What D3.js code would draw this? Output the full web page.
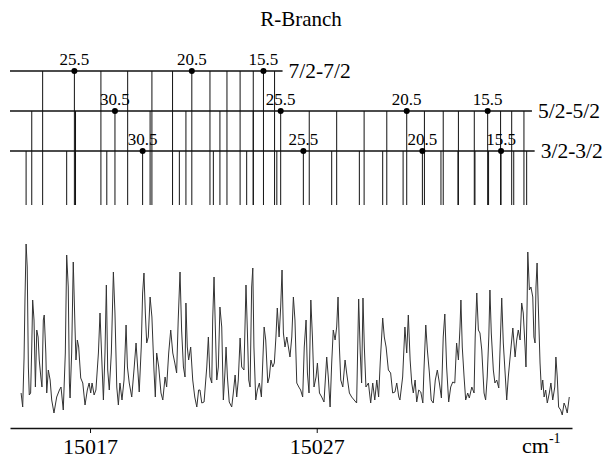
<!DOCTYPE html>
<html>
<head>
<meta charset="utf-8">
<script src="https://cdn.jsdelivr.net/npm/d3@7"></script>
<style>
  body { margin: 0; background: #fff; }
  svg { display: block; }
</style>
</head>
<body>
<div id="chart"></div>
<script>
// all wavenumbers below are given as cm-1 above this base
const base = 15000;
const tickValues = [15017, 15027];

// stick diagram: one row per sub-band
const seriesNames = ["7/2-7/2", "5/2-5/2", "3/2-3/2"];

// 7/2-7/2, J = 26.5 ... 14.5
const sticks72 = [14.91, 16.31, 17.48, 18.66, 19.73, 20.64, 21.49, 22.29, 23.04, 23.62, 24.20, 24.65, 25.14];
const markJ72 = ["25.5", "20.5", "15.5"];
const markNu72 = [16.31, 21.49, 24.65];

// 5/2-5/2, J = 32.5 ... 12.5
const sticks52 = [14.43, 16.36, 18.10, 19.65, 21.23, 22.73, 24.20, 25.41, 26.67, 27.88, 29.09, 30.09, 30.97,
  31.75, 32.58, 33.25, 33.95, 34.54, 35.11, 35.60, 36.14];
const markJ52 = ["30.5", "25.5", "20.5", "15.5"];
const markNu52 = [18.10, 25.41, 30.97, 34.54];

// 3/2-3/2, J = 33.5 ... 13.5
const sticks32 = [14.18, 15.97, 17.74, 19.32, 20.94, 22.44, 23.91, 25.24, 26.41, 27.66, 28.88, 29.91, 30.81,
  31.66, 32.48, 33.23, 33.98, 34.58, 35.13, 35.69, 36.26];
const markJ32 = ["30.5", "25.5", "20.5", "15.5"];
const markNu32 = [19.32, 26.41, 31.66, 35.13];

// recorded spectrum (wavenumber above base, intensity in arbitrary units)
const specNu = [
  13.96,14.03,14.09,14.13,14.18,14.23,14.28,14.32,14.38,14.43,
  14.47,14.53,14.59,14.65,14.71,14.76,14.83,14.88,14.94,14.98,
  15.05,15.09,15.16,15.24,15.31,15.41,15.53,15.65,15.72,15.82,
  15.91,15.97,16.04,16.09,16.12,16.19,16.26,16.34,16.38,16.44,
  16.50,16.59,16.68,16.78,16.88,16.96,17.03,17.09,17.18,17.26,
  17.37,17.44,17.52,17.59,17.66,17.72,17.78,17.85,17.94,18.03,
  18.10,18.18,18.25,18.32,18.41,18.50,18.59,18.65,18.73,18.84,
  18.95,19.03,19.10,19.17,19.26,19.32,19.38,19.44,19.50,19.57,
  19.65,19.73,19.82,19.88,19.94,20.03,20.13,20.21,20.31,20.38,
  20.47,20.56,20.65,20.74,20.82,20.89,20.97,21.04,21.12,21.19,
  21.23,21.29,21.35,21.44,21.53,21.62,21.71,21.79,
  21.85,21.93,22.03,22.15,22.22,22.29,22.37,22.41,22.47,22.53,
  22.59,22.66,22.73,22.81,22.88,22.95,23.00,23.06,23.14,23.25,
  23.32,23.40,23.47,23.54,23.62,23.69,23.79,23.88,23.94,24.00,
  24.06,24.13,24.18,24.23,24.31,24.38,24.47,24.56,24.68,24.75,
  24.84,24.91,24.98,25.06,25.13,25.20,25.26,25.34,25.41,25.47,
  25.53,25.60,25.68,25.75,25.82,25.90,25.97,26.04,26.12,26.21,
  26.29,26.38,26.45,26.53,26.59,26.66,26.74,26.81,26.88,26.97,
  27.03,27.12,27.22,27.32,27.44,27.51,27.59,27.66,27.73,27.81,
  27.88,27.94,28.00,28.06,28.15,28.25,28.32,28.44,28.54,28.65,
  28.76,28.85,28.92,28.98,29.04,29.10,29.17,29.28,29.38,29.47,
  29.56,29.65,29.73,29.80,29.91,29.98,30.06,30.16,30.26,30.35,
  30.45,30.53,30.62,
  30.67,30.79,30.89,30.97,31.04,31.12,31.19,31.26,31.34,31.41,
  31.50,31.59,31.68,31.73,31.81,31.88,31.97,32.05,32.14,32.23,
  32.32,32.41,32.50,32.58,32.65,32.73,32.82,32.91,33.00,33.09,
  33.17,33.25,33.32,33.36,33.42,33.50,33.57,33.66,33.73,33.84,
  33.94,33.99,34.06,34.13,34.20,34.28,34.38,34.45,34.52,34.59,
  34.64,34.70,34.79,34.86,34.94,35.03,35.09,35.16,35.23,35.31,
  35.38,35.45,35.53,35.65,35.75,35.82,35.89,35.97,36.04,36.11,
  36.19,36.23,36.28,36.31,36.38,36.45,36.53,36.58,36.63,36.67,
  36.72,36.77,36.85,36.91,36.97,37.03,37.10,37.17,37.26,37.33,
  37.41,37.50,37.55,37.61,37.67,37.76,37.83,37.91,37.98,38.05,
  38.14
];
const specI = [
  27,13,62,120,176,153,53,25,27,73,
  120,100,33,90,83,60,43,33,100,105,
  67,27,50,40,20,7,23,30,33,10,
  67,165,133,37,22,67,158,90,60,80,
  73,42,37,15,30,37,27,37,25,30,
  67,107,60,20,67,135,50,30,67,148,
  107,33,15,37,20,40,95,53,37,23,
  53,77,53,28,73,127,147,107,77,83,
  123,103,50,23,67,53,27,20,43,33,
  67,90,67,57,47,100,148,90,53,43,
  117,73,60,73,40,23,13,30,
  30,17,18,53,83,43,37,100,143,90,
  40,53,113,93,20,47,73,43,18,13,
  27,45,23,40,82,53,50,135,90,40,
  33,133,152,73,20,30,37,23,93,80,
  37,43,60,53,57,83,112,83,113,150,
  87,73,83,73,63,83,123,100,37,33,
  30,23,73,100,47,27,120,83,33,43,
  57,27,23,18,63,43,13,57,90,80,
  93,123,73,40,33,60,47,27,23,20,
  17,121,67,37,122,73,33,37,17,37,
  20,40,23,57,102,83,73,50,47,27,
  28,37,23,
  20,43,93,67,105,60,37,27,40,18,
  30,28,17,50,95,70,47,20,17,40,
  50,37,22,83,106,53,18,33,38,37,
  77,60,93,120,73,43,20,27,22,33,
  27,83,127,90,87,70,27,20,43,83,
  130,87,50,37,40,32,73,122,77,47,
  20,43,63,92,63,80,90,80,117,107,
  73,53,117,168,130,133,123,83,77,133,
  157,117,57,30,40,23,30,17,27,37,
  20,33,63,43,13,10,5,17,13,7,23
];

const width = 607, height = 462;
const serif = "'Liberation Serif', 'Times New Roman', serif";

const svg = d3.select("#chart").append("svg")
  .attr("width", width)
  .attr("height", height)
  .style("font-family", serif);

// scales
const x = d3.scaleLinear()
  .domain([base + 13.47, base + 38.26])
  .range([10, 572]);

const yRow = d3.scalePoint()
  .domain(seriesNames)
  .range([71, 151]);
const stickBottom = 205;

const y = d3.scaleLinear()
  .domain([0, 180])
  .range([420, 240]);

// title
svg.append("text")
  .attr("x", 301)
  .attr("y", 26)
  .attr("text-anchor", "middle")
  .attr("font-size", 21)
  .text("R-Branch");

// --- stick diagram ---
const rows = [
  { name: seriesNames[0], sticks: sticks72, marks: markNu72.map((v, i) => ({ nu: v, j: markJ72[i] })) },
  { name: seriesNames[1], sticks: sticks52, marks: markNu52.map((v, i) => ({ nu: v, j: markJ52[i] })) },
  { name: seriesNames[2], sticks: sticks32, marks: markNu32.map((v, i) => ({ nu: v, j: markJ32[i] })) }
];

rows.forEach(row => {
  const g = svg.append("g").attr("class", "row");
  const ry = yRow(row.name);
  const lineEnd = x(base + d3.max(row.sticks)) + 8;

  g.selectAll(".stick")
    .data(row.sticks)
    .join("line")
    .attr("class", "stick")
    .attr("x1", d => x(base + d))
    .attr("x2", d => x(base + d))
    .attr("y1", ry)
    .attr("y2", stickBottom)
    .attr("stroke", "#111")
    .attr("stroke-width", 1);

  g.append("line")
    .attr("x1", x.range()[0])
    .attr("x2", lineEnd)
    .attr("y1", ry)
    .attr("y2", ry)
    .attr("stroke", "#111")
    .attr("stroke-width", 1.3);

  g.selectAll(".dot")
    .data(row.marks)
    .join("circle")
    .attr("class", "dot")
    .attr("cx", d => x(base + d.nu))
    .attr("cy", ry)
    .attr("r", 3)
    .attr("fill", "#000");

  g.selectAll(".jlabel")
    .data(row.marks)
    .join("text")
    .attr("class", "jlabel")
    .attr("x", d => x(base + d.nu))
    .attr("y", ry - 6)
    .attr("text-anchor", "middle")
    .attr("font-size", 17)
    .text(d => d.j);

  g.append("text")
    .attr("x", lineEnd + 6)
    .attr("y", ry + 7)
    .attr("font-size", 21.5)
    .text(row.name);
});

// --- spectrum trace ---
const spectrum = specNu.map((v, i) => ({ nu: base + v, I: specI[i] }))
  .filter(d => d.I !== undefined);

svg.append("path")
  .datum(spectrum)
  .attr("fill", "none")
  .attr("stroke", "#333")
  .attr("stroke-width", 1)
  .attr("stroke-linejoin", "round")
  .attr("d", d3.line()
    .x(d => x(d.nu))
    .y(d => y(d.I)));

// --- axis ---
const xaxis = svg.append("g")
  .attr("transform", "translate(0, 428)")
  .call(d3.axisBottom(x)
    .tickValues(tickValues)
    .tickFormat(d3.format("d"))
    .tickSize(5)
    .tickSizeOuter(0));

xaxis.attr("font-family", serif).attr("font-size", 22);
xaxis.select(".domain").attr("stroke", "#111").attr("stroke-width", 1.6);
xaxis.selectAll(".tick line").attr("stroke", "#111");
xaxis.selectAll(".tick text").attr("fill", "#000").attr("y", 10);

const unit = svg.append("text")
  .attr("x", 522)
  .attr("y", 453)
  .attr("font-size", 22)
  .text("cm");
unit.append("tspan")
  .attr("dy", -10)
  .attr("font-size", 14)
  .text("-1");
</script>
</body>
</html>
